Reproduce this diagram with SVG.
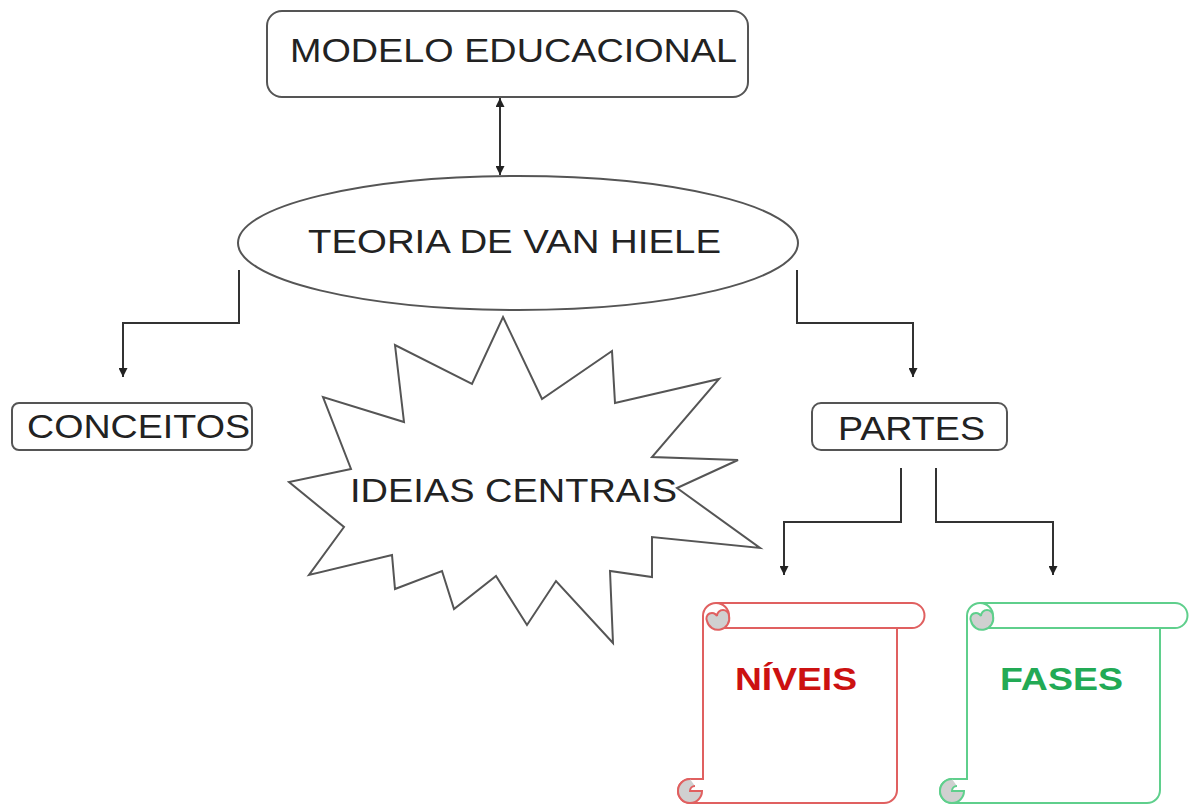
<svg xmlns="http://www.w3.org/2000/svg" width="1193" height="805" viewBox="0 0 1193 805">
<defs>
<marker id="ah" viewBox="0 0 10 10" refX="10" refY="5" markerWidth="9" markerHeight="9" markerUnits="userSpaceOnUse" orient="auto-start-reverse">
<path d="M0,0 L10,5 L0,10 Z" fill="#222"/>
</marker>
</defs>
<style>
.box{fill:#fff;stroke:#555;stroke-width:2}
.lbl{font-family:"Liberation Sans",Arial,sans-serif;fill:#222;font-size:33px}
.conn{fill:none;stroke:#333;stroke-width:2}
.scrollR{fill:#fff;stroke:#e06060;stroke-width:2}
.scrollG{fill:#fff;stroke:#5fcf8c;stroke-width:2}
.curlR{fill:#d0d0d0;stroke:#e06060;stroke-width:2}
.curlG{fill:#d0d0d0;stroke:#5fcf8c;stroke-width:2}
.bold{font-family:"Liberation Sans",Arial,sans-serif;font-weight:bold;font-size:31px}
</style>
<rect width="1193" height="805" fill="#fff"/>
<g id="connectors">
<line class="conn" x1="500" y1="98" x2="500" y2="175" marker-start="url(#ah)" marker-end="url(#ah)"/>
<path class="conn" d="M239 270 V323 H123 V377" marker-end="url(#ah)"/>
<path class="conn" d="M797 270 V323 H913 V377" marker-end="url(#ah)"/>
<path class="conn" d="M901 468 V522 H784 V575" marker-end="url(#ah)"/>
<path class="conn" d="M936 468 V522 H1053 V575" marker-end="url(#ah)"/>
</g>
<g id="modelo">
<rect class="box" x="267" y="11" width="481" height="86" rx="15"/>
<text class="lbl" x="290" y="62" textLength="447" lengthAdjust="spacingAndGlyphs">MODELO EDUCACIONAL</text>
</g>
<g id="teoria">
<ellipse class="box" cx="518" cy="243" rx="280" ry="67"/>
<text class="lbl" x="308" y="253" textLength="413" lengthAdjust="spacingAndGlyphs">TEORIA DE VAN HIELE</text>
</g>
<g id="conceitos">
<rect class="box" x="12" y="403" width="240" height="47" rx="7"/>
<text class="lbl" x="27" y="438" font-size="32" textLength="223" lengthAdjust="spacingAndGlyphs">CONCEITOS</text>
</g>
<g id="partes">
<rect class="box" x="812" y="403" width="195" height="47" rx="9"/>
<text class="lbl" x="838" y="440" font-size="32" textLength="147" lengthAdjust="spacingAndGlyphs">PARTES</text>
</g>
<g id="ideias">
<polygon class="box" points="503,317 542,399 612,351 615,403 719,379 652,457 738,460 677,488 760,548 652,537 652,577 610,571 613,643 556,581 527,625 496,576 454,609 442,571 395,589 392,555 309,575 344,527 289,482 351,469 323,397 404,422 395,345 472,384"/>
<text class="lbl" x="350" y="502" textLength="327" lengthAdjust="spacingAndGlyphs">IDEIAS CENTRAIS</text>
</g>
<g id="niveis">
<path class="scrollR" d="M703 616 A13 13 0 0 1 716 603 H912 A12.5 12.5 0 0 1 912 628 H897 V790 A13 13 0 0 1 884 803 H690 A12 12 0 0 1 690 779 H703 Z"/>
<line class="scrollR" x1="716" y1="628" x2="897" y2="628"/>
<path class="scrollR" d="M716 603 A13 13 0 0 1 729 616"/>
<path class="curlR" d="M707 621 A11 11 0 0 0 729 616 A6 6 0 0 0 717 616 A5 5 0 0 0 707 621 Z"/>
<path class="curlR" d="M690 779 A12 12 0 1 0 702 791 H690 A5 5 0 0 1 695 786"/>
<text class="bold" x="735" y="690" fill="#cc1111" textLength="122" lengthAdjust="spacingAndGlyphs">NÍVEIS</text>
</g>
<g id="fases">
<path class="scrollG" d="M967 616 A13 13 0 0 1 980 603 H1175 A12.5 12.5 0 0 1 1175 628 H1160 V790 A13 13 0 0 1 1147 803 H952 A12 12 0 0 1 952 779 H967 Z"/>
<line class="scrollG" x1="980" y1="628" x2="1160" y2="628"/>
<path class="scrollG" d="M980 603 A13 13 0 0 1 993 616"/>
<path class="curlG" d="M971 621 A11 11 0 0 0 993 616 A6 6 0 0 0 981 616 A5 5 0 0 0 971 621 Z"/>
<path class="curlG" d="M952 779 A12 12 0 1 0 964 791 H952 A5 5 0 0 1 957 786"/>
<text class="bold" x="1000" y="690" fill="#22aa55" textLength="123" lengthAdjust="spacingAndGlyphs">FASES</text>
</g>
</svg>
